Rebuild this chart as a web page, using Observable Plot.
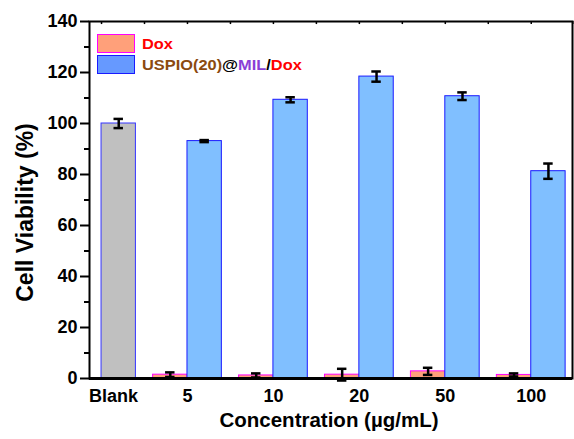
<!DOCTYPE html>
<html>
<head>
<meta charset="utf-8">
<script src="https://cdn.jsdelivr.net/npm/d3@7"></script>
<script src="https://cdn.jsdelivr.net/npm/@observablehq/plot@0.6"></script>
<style>
  body { margin: 0; background: #fff; }
  #chart { position: relative; width: 574px; height: 439px; font-family: "Liberation Sans", Arial, sans-serif; }
  #legend { position: absolute; left: 97px; top: 33px; font-weight: bold; }
  .item { display: flex; align-items: center; height: 21px; }
  .sw { width: 36px; height: 17px; box-sizing: content-box; margin-right: 7px; }
  .lbl { font-size: 14px; display: inline-block; transform: scaleX(1.17); transform-origin: left center; white-space: nowrap; }
</style>
</head>
<body>
<div id="chart">
  <div id="legend">
    <div class="item"><span class="sw" style="background:#ffa07a;border:1px solid #ff00ff"></span><span class="lbl" style="color:#ff0000">Dox</span></div>
    <div class="item"><span class="sw" style="background:#6699ff;border:1px solid #1a1aff"></span><span class="lbl"><span style="color:#8b4a0f">USPIO(20)</span><span style="color:#000">@</span><span style="color:#8a3fd6">MIL</span><span style="color:#000">/</span><span style="color:#ff0000">Dox</span></span></div>
  </div>
</div>
<script>
// Concentration groups along the x axis
const concentrations = ["Blank", "5", "10", "20", "50", "100"];

// Untreated control
const blankMean = 100.0;
const blankErr = 1.8;

// Free Dox (no value for the blank group)
const doxMean = [null, 1.5, 1.2, 1.5, 2.8, 1.4];
const doxErr  = [null, 0.9, 0.8, 2.3, 1.4, 0.6];

// USPIO(20)@MIL/Dox (no value for the blank group)
const nanoMean = [null, 93.1, 109.3, 118.4, 110.7, 81.3];
const nanoErr  = [null, 0.4, 1.0, 2.0, 1.5, 3.0];

const yMajor = [0, 20, 40, 60, 80, 100, 120, 140];
const yMinor = [10, 30, 50, 70, 90, 110, 130];

const BAR = 0.4;   // bar width in group units
const CAP = 0.055; // half width of error caps

const rows = (mean, err) => concentrations
  .map((c, i) => ({i, c, mean: mean[i], err: err[i]}))
  .filter(d => d.mean != null);

const doxRows = rows(doxMean, doxErr);
const nanoRows = rows(nanoMean, nanoErr);
const blankRows = [{i: 0, c: concentrations[0], mean: blankMean, err: blankErr}];

const errorMarks = (data, center) => [
  Plot.ruleX(data, {x: center, y1: d => d.mean - d.err, y2: d => d.mean + d.err, stroke: "#000", strokeWidth: 2.5}),
  Plot.ruleY(data, {y: d => d.mean + d.err, x1: d => center(d) - CAP, x2: d => center(d) + CAP, stroke: "#000", strokeWidth: 2.5}),
  Plot.ruleY(data, {y: d => d.mean - d.err, x1: d => center(d) - CAP, x2: d => center(d) + CAP, stroke: "#000", strokeWidth: 2.5})
];

const topTicks = d3.range(0, 5.51, 0.5);
const font = {fontSize: 18, fontWeight: "bold"};

const plot = Plot.plot({
  width: 574,
  height: 439,
  marginLeft: 89,
  marginRight: 2,
  marginTop: 21,
  marginBottom: 61,
  style: {fontFamily: "'Liberation Sans', Arial, sans-serif", background: "#fff", color: "#000"},
  x: {type: "linear", domain: [-0.14, 5.48]},
  y: {domain: [0, 140]},
  marks: [
    // bars
    Plot.rectY(blankRows, {x1: d => d.i, x2: d => d.i + BAR, y: "mean", fill: "#c0c0c0", stroke: "#3535ff", strokeWidth: 1}),
    Plot.rectY(doxRows, {x1: d => d.i - BAR, x2: d => d.i, y: "mean", fill: "#ffa07a", stroke: "#ff00ff", strokeWidth: 1}),
    Plot.rectY(nanoRows, {x1: d => d.i, x2: d => d.i + BAR, y: "mean", fill: "#80bfff", stroke: "#1a1aff", strokeWidth: 1}),
    // error bars
    ...errorMarks(blankRows, d => d.i + BAR / 2),
    ...errorMarks(doxRows, d => d.i - BAR / 2),
    ...errorMarks(nanoRows, d => d.i + BAR / 2),
    // frame and inward top ticks
    Plot.frame({stroke: "#000", strokeWidth: 2}),
    Plot.ruleY([0], {stroke: "#000", strokeWidth: 3}),
    Plot.ruleX(topTicks, {x: d => d, y1: 140, y2: 138.8, stroke: "#000", strokeWidth: 1.5}),
    // y axis
    Plot.axisY({ticks: yMajor, tickSize: 9, tickPadding: 3, strokeWidth: 2, label: null, ...font}),
    Plot.axisY({ticks: yMinor, tickSize: 5, strokeWidth: 2, tickFormat: () => "", label: null}),
    // x axis labels
    Plot.axisX({ticks: [1, 2, 3, 4, 5], tickSize: 0, tickPadding: 11, tickFormat: i => concentrations[i], label: null, ...font}),
    Plot.axisX({ticks: [0], tickSize: 0, tickPadding: 11, tickFormat: i => concentrations[i], label: null, dx: 12, ...font}),
    // axis titles
    Plot.text(["Concentration (µg/mL)"], {frameAnchor: "bottom", dy: 48, dx: -2, fontSize: 20.5, fontWeight: "bold"}),
    Plot.text(["Cell Viability (%)"], {frameAnchor: "left", textAnchor: "middle", rotate: -90, dx: -64, dy: 12.5, fontSize: 23, fontWeight: "bold"})
  ]
});

document.getElementById("chart").prepend(plot);
</script>
</body>
</html>
